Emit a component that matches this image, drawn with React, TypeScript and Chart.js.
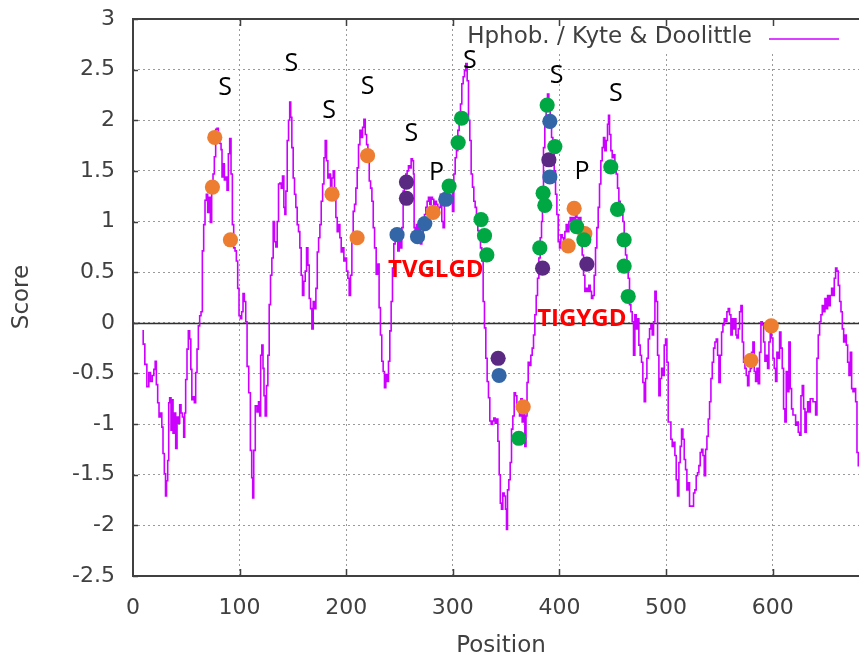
import React, { useEffect, useRef } from 'react';
import { Chart, registerables } from 'chart.js';

Chart.register(...registerables);

const W = 859;
const H = 659;

// Kyte & Doolittle hydrophobicity profile (position, score)
const positions = [
  8.8, 10.3, 11.9, 14.1, 15.6, 17.2, 18.8, 20.3, 21.3, 22.5, 23.8, 25.0, 26.6, 27.5, 28.8, 30.0, 31.0, 31.9, 33.2, 33.8,
  35.0, 36.3, 36.9, 38.2, 39.4, 40.7, 41.9, 43.2, 44.4, 45.7, 46.9, 48.2, 48.8, 50.0, 51.3, 52.5, 53.8, 54.7, 55.7, 56.9,
  58.2, 59.4, 60.7, 61.9, 63.2, 64.4, 65.7, 66.9, 68.2, 69.4, 70.7, 71.9, 73.2, 74.4, 75.7, 76.9, 78.2, 79.4, 80.7, 82.0,
  83.2, 83.8, 85.1, 86.3, 87.6, 88.8, 90.1, 91.3, 92.6, 93.8, 95.1, 96.3, 97.6, 98.8, 100.1, 101.3, 102.6, 103.8, 105.1, 106.4,
  107.6, 109.5, 110.7, 112.0, 112.6, 113.9, 115.5, 117.1, 118.4, 119.3, 120.2, 121.5, 122.4, 123.4, 124.6, 125.9, 127.1, 128.4, 129.6, 130.9,
  132.1, 133.4, 134.6, 135.9, 137.1, 138.4, 139.6, 140.9, 142.1, 142.8, 144.0, 145.3, 146.5, 147.5, 148.4, 149.6, 150.9, 152.1, 153.4, 154.6,
  155.9, 157.1, 158.4, 159.6, 160.9, 162.2, 163.4, 164.7, 165.9, 167.2, 168.4, 169.7, 170.9, 172.2, 173.5, 174.7, 175.9, 177.2, 178.5, 179.7,
  180.9, 182.2, 183.4, 184.7, 185.9, 187.2, 188.4, 189.7, 190.9, 192.2, 193.4, 194.7, 195.9, 197.2, 198.4, 199.7, 200.9, 202.2, 203.4, 204.7,
  205.9, 207.2, 208.4, 209.7, 210.9, 212.2, 213.5, 214.7, 216.0, 217.2, 218.5, 219.7, 221.0, 222.2, 223.5, 224.7, 226.0, 227.2, 229.0, 230.2,
  231.5, 232.7, 234.0, 235.3, 236.5, 237.8, 239.0, 240.3, 241.5, 242.8, 244.0, 245.3, 246.5, 247.8, 249.0, 250.3, 251.5, 252.8, 254.0, 255.3,
  256.5, 257.8, 259.0, 260.3, 261.5, 262.8, 263.4, 264.0, 265.3, 266.5, 267.8, 269.0, 270.3, 271.5, 272.8, 274.0, 275.3, 276.5, 277.8, 279.0,
  280.3, 281.5, 282.8, 284.0, 285.3, 286.5, 287.8, 289.0, 290.3, 291.5, 292.8, 294.1, 295.3, 296.6, 297.8, 299.1, 300.3, 301.6, 302.8, 304.1,
  305.3, 306.6, 307.8, 309.1, 310.3, 311.6, 312.8, 314.1, 315.3, 316.6, 317.8, 319.1, 320.3, 321.6, 322.8, 324.1, 325.3, 326.6, 327.8, 329.1,
  330.3, 331.6, 332.8, 334.1, 335.3, 336.6, 337.8, 339.1, 340.3, 341.6, 342.9, 344.1, 345.0, 346.3, 347.5, 348.8, 350.0, 350.7, 351.9, 353.2,
  354.4, 355.7, 356.9, 358.2, 359.4, 360.7, 361.9, 363.2, 364.4, 365.7, 366.9, 368.2, 369.1, 370.1, 371.3, 372.6, 373.8, 375.1, 376.3, 377.6,
  378.8, 380.1, 381.3, 382.6, 383.8, 384.4, 385.7, 386.9, 388.2, 389.4, 390.7, 392.0, 393.2, 394.5, 395.7, 397.0, 398.2, 399.5, 400.7, 402.0,
  403.2, 404.5, 405.7, 407.0, 408.2, 409.5, 410.7, 412.0, 413.2, 414.5, 415.7, 417.0, 418.2, 419.5, 420.7, 422.0, 423.2, 424.5, 425.7, 427.0,
  428.2, 429.5, 430.7, 432.0, 433.2, 434.5, 435.7, 437.0, 438.2, 439.5, 440.7, 442.0, 443.2, 444.5, 445.7, 446.4, 447.6, 448.9, 450.1, 451.4,
  452.6, 453.9, 455.1, 456.4, 457.6, 458.9, 460.1, 461.4, 462.6, 463.9, 465.1, 466.4, 467.6, 468.9, 470.1, 471.4, 472.6, 473.9, 475.1, 476.4,
  477.6, 478.9, 480.2, 481.4, 482.7, 483.9, 485.2, 486.4, 487.7, 488.9, 490.2, 491.4, 492.7, 493.9, 495.2, 496.4, 497.7, 498.9, 500.2, 501.4,
  502.7, 503.9, 505.2, 506.4, 507.7, 508.9, 510.2, 511.4, 512.7, 513.9, 515.2, 516.4, 517.7, 518.9, 520.2, 521.4, 522.7, 523.9, 525.2, 526.4,
  527.7, 528.9, 530.2, 531.4, 532.7, 534.0, 535.2, 536.5, 537.7, 539.0, 540.2, 541.5, 542.7, 544.0, 545.2, 546.5, 547.7, 549.0, 550.2, 551.5,
  552.7, 554.0, 555.2, 556.5, 557.7, 559.0, 560.2, 561.5, 562.7, 564.0, 565.2, 565.9, 567.1, 568.4, 569.6, 570.9, 572.1, 573.4, 574.6, 575.9,
  577.1, 578.4, 579.6, 580.9, 582.1, 583.4, 584.6, 585.9, 587.1, 588.4, 589.6, 590.9, 592.1, 593.4, 594.6, 595.9, 597.1, 598.4, 599.6, 600.9,
  602.1, 603.4, 604.6, 605.9, 607.1, 608.4, 609.6, 610.9, 612.1, 613.4, 614.6, 615.9, 617.1, 618.4, 619.7, 620.9, 622.2, 623.4, 624.7, 625.9,
  627.2, 628.4, 629.7, 630.9, 632.2, 633.4, 634.7, 635.9, 637.2, 638.4, 639.7, 640.9, 642.2, 643.4, 644.7, 645.9, 647.2, 648.4, 649.7, 650.9,
  652.2, 653.4, 654.7, 655.9, 657.2, 658.4, 659.7, 660.9, 662.2, 663.5, 664.7, 666.0, 667.2, 668.5, 669.7, 671.0, 672.2, 673.5, 674.7, 676.0,
  677.2, 678.5, 679.7, 681.0,
];
const scores = [
  -0.08, -0.21, -0.41, -0.63, -0.49, -0.58, -0.52, -0.46, -0.38, -0.61, -0.79, -0.93, -0.89, -1.03, -1.29, -1.49, -1.71, -1.56, -1.36, -0.79,
  -0.74, -1.06, -0.76, -1.09, -0.89, -1.24, -0.93, -0.99, -0.81, -0.89, -0.93, -1.13, -0.89, -0.56, -0.26, -0.08, -0.16, -0.46, -0.76, -0.73,
  -0.79, -0.49, -0.26, -0.03, 0.07, 0.11, 0.71, 0.97, 1.21, 1.27, 1.09, 1.24, 0.99, 1.31, 1.47, 1.64, 1.91, 1.92, 1.81, 1.77,
  1.71, 1.44, 1.57, 1.41, 1.44, 1.31, 1.67, 1.82, 1.47, 0.97, 0.74, 0.71, 0.61, 0.34, 0.07, 0.04, 0.11, 0.29, 0.21, 0.01,
  -0.43, -0.69, -1.26, -1.53, -1.73, -1.26, -0.82, -0.88, -0.78, -0.92, -0.32, -0.22, -0.45, -0.72, -0.92, -0.62, -0.32, 0.18, 0.47, 0.64,
  1.0, 0.8, 0.75, 1.0, 1.37, 1.38, 1.33, 1.45, 1.14, 1.07, 1.3, 1.8, 2.0, 2.18, 2.03, 1.73, 1.43, 1.27, 1.14, 0.97,
  0.9, 0.74, 0.47, 0.27, 0.41, 0.51, 0.74, 0.57, 0.24, 0.14, -0.06, 0.21, 0.14, 0.34, 0.7, 0.84, 0.97, 1.2, 1.37, 1.63,
  1.8, 1.6, 1.43, 1.47, 1.33, 1.43, 1.5, 1.33, 1.04, 0.9, 0.97, 0.84, 0.7, 0.74, 0.61, 0.64, 0.51, 0.44, 0.27, 0.47,
  0.8, 1.1, 1.17, 1.33, 1.53, 1.76, 1.9, 1.83, 1.93, 2.01, 1.86, 1.76, 1.6, 1.4, 1.33, 1.2, 0.94, 0.74, 0.48, 0.58,
  0.15, -0.12, -0.38, -0.48, -0.64, -0.51, -0.58, -0.38, -0.08, 0.21, 0.54, 0.78, 0.81, 0.87, 0.71, 0.87, 0.74, 0.94, 1.3, 1.37,
  1.47, 1.5, 1.55, 1.53, 1.62, 1.6, 1.47, 0.94, 0.84, 0.97, 0.81, 0.94, 0.78, 0.87, 1.0, 1.07, 1.14, 1.2, 1.24, 1.17,
  1.24, 1.22, 1.14, 1.2, 1.17, 1.07, 1.14, 1.27, 1.0, 0.94, 1.24, 1.37, 1.24, 1.34, 1.3, 1.4, 1.1, 1.47, 1.63, 1.7,
  1.9, 2.03, 2.16, 2.36, 2.43, 2.49, 2.56, 2.39, 2.0, 1.8, 1.47, 1.34, 1.2, 1.14, 1.0, 0.91, 0.84, 0.74, 0.61, 0.21,
  -0.05, -0.35, -0.58, -0.74, -0.97, -1.0, -0.97, -0.94, -0.99, -0.95, -1.17, -1.5, -1.78, -1.84, -1.68, -1.71, -1.84, -2.04, -1.65, -1.55,
  -1.38, -1.05, -0.92, -0.69, -0.72, -0.85, -0.79, -0.92, -0.75, -0.98, -0.88, -1.22, -0.92, -0.59, -0.39, -0.42, -0.32, -0.25, -0.12, 0.08,
  0.27, 0.44, 0.64, 0.84, 1.0, 1.27, 1.73, 2.0, 2.16, 2.26, 2.13, 1.93, 1.83, 1.73, 1.5, 1.27, 1.07, 0.8, 0.74, 0.87,
  0.84, 0.77, 0.9, 0.97, 0.9, 1.0, 1.04, 0.94, 1.04, 0.97, 1.1, 1.04, 0.94, 1.04, 0.8, 0.67, 0.47, 0.31, 0.34, 0.31,
  0.37, 0.31, 0.24, 0.27, 0.47, 0.74, 0.94, 1.14, 1.37, 1.6, 1.73, 1.83, 1.7, 1.8, 1.96, 2.05, 1.86, 1.7, 1.63, 1.66,
  1.53, 1.47, 1.33, 1.2, 1.1, 1.07, 1.0, 0.84, 0.67, 0.54, 0.44, 0.18, 0.11, 0.01, -0.32, 0.08, -0.06, 0.04, -0.22, -0.32,
  -0.39, -0.59, -0.78, -0.55, -0.35, -0.16, -0.06, -0.02, -0.12, 0.01, 0.31, 0.21, -0.32, -0.72, -0.55, -0.45, -0.52, -0.22, -0.16, -0.39,
  -0.98, -0.98, -1.15, -1.22, -1.18, -1.31, -1.55, -1.71, -1.38, -1.22, -1.05, -1.15, -1.35, -1.45, -1.65, -1.58, -1.81, -1.81, -1.81, -1.68,
  -1.65, -1.51, -1.48, -1.41, -1.28, -1.25, -1.31, -1.51, -1.25, -1.12, -0.95, -0.78, -0.55, -0.39, -0.25, -0.19, -0.16, -0.32, -0.59, -0.32,
  -0.09, -0.02, 0.04, 0.01, 0.11, 0.14, 0.08, -0.12, 0.04, -0.06, 0.04, -0.12, -0.15, -0.06, 0.11, 0.17, -0.19, -0.39, -0.45, -0.52,
  -0.62, -0.48, -0.45, -0.29, -0.19, -0.48, -0.58, -0.45, -0.6, -0.29, 0.01, -0.02, -0.19, -0.38, -0.32, -0.45, -0.19, -0.09, -0.15, -0.35,
  -0.45, -0.58, -0.29, -0.35, -0.09, -0.25, -0.45, -0.85, -0.98, -0.48, -0.68, -0.19, -0.65, -0.85, -0.91, -0.91, -1.01, -0.98, -1.08, -1.11,
  -0.72, -0.62, -0.85, -1.08, -0.88, -0.78, -0.88, -0.75, -0.75, -0.78, -0.78, -0.91, -0.35, -0.12, 0.01, 0.08, 0.17, 0.11, 0.24, 0.14,
  0.27, 0.17, 0.27, 0.34, 0.27, 0.44, 0.54, 0.51, 0.37, 0.21, 0.11, -0.06, -0.19, -0.12, -0.22, -0.39, -0.52, -0.29, -0.65, -0.68,
  -0.65, -0.78, -1.28, -1.41,
];

// Marked residues (position, score), by colour group
const orangeX = [74.5, 76.7, 91.4, 186.7, 210.2, 220, 281.5, 366, 408.2, 413.8, 423.8, 579.6, 598.7];
const orangeY = [1.34, 1.83, 0.82, 1.27, 0.84, 1.65, 1.09, -0.83, 0.76, 1.13, 0.88, -0.37, -0.03];
const greenX = [296.5, 305, 308.2, 326.5, 329.7, 331.9, 361.9, 381.6, 384.7, 386.3, 388.5, 395.7, 416.1, 422.9, 448.2, 454.5, 460.7, 460.7, 464.5];
const greenY = [1.35, 1.78, 2.02, 1.02, 0.86, 0.67, -1.14, 0.74, 1.28, 1.16, 2.15, 1.74, 0.95, 0.82, 1.54, 1.12, 0.82, 0.56, 0.26];
const blueX = [247.7, 266.9, 273.7, 293.4, 343.4, 391, 391];
const blueY = [0.87, 0.85, 0.98, 1.22, -0.52, 1.99, 1.44];
const purpleX = [256.5, 256.5, 342.5, 384.2, 390.1, 425.7];
const purpleY = [1.39, 1.23, -0.35, 0.54, 1.61, 0.58];

// Annotations
const siteLabels = ['S', 'S', 'S', 'S', 'S', 'S', 'S', 'S', 'P', 'P'];
const siteX = [86.3, 148.6, 183.9, 220, 261.2, 316, 397.3, 453, 284.7, 421.3];
const siteY = [2.34, 2.57, 2.11, 2.35, 1.88, 2.6, 2.46, 2.28, 1.5, 1.51];
const motifLabels = ['TVGLGD', 'TIGYGD'];
const motifX = [284, 421];
const motifY = [0.54, 0.05];

const legendLabel = 'Hphob. / Kyte & Doolittle';
const xTitle = 'Position';
const yTitle = 'Score';

const X_MIN = 0;
const X_MAX = 681;
const Y_MIN = -2.5;
const Y_MAX = 3;

const LINE_COLOR = '#CC00FF';
const TEXT_GRAY = '#404040';
const TICK_FONT = 'DejaVu Sans';

const toPoints = (xs: number[], ys: number[]) => xs.map((x, i) => ({ x, y: ys[i] }));

const zeroPad = (s: any) => {
  s.paddingLeft = 0;
  s.paddingRight = 0;
  s.paddingTop = 0;
  s.paddingBottom = 0;
};

const decorPlugin = {
  id: 'decor',
  beforeDatasetsDraw(chart: any) {
    const { ctx, chartArea: a, scales } = chart;
    const xs = scales.x;
    const ys = scales.y;
    ctx.save();
    // legend background
    ctx.fillStyle = '#ffffff';
    ctx.fillRect(460, a.top + 1, a.right - 460 + 2, 31);
    // zero line
    const y0 = Math.round(ys.getPixelForValue(0)) + 0.5;
    ctx.strokeStyle = '#303030';
    ctx.lineWidth = 1.6;
    ctx.beginPath();
    ctx.moveTo(a.left, y0);
    ctx.lineTo(a.right, y0);
    ctx.stroke();
    // frame
    ctx.strokeStyle = '#404040';
    ctx.lineWidth = 2;
    ctx.beginPath();
    ctx.moveTo(a.right + 2, a.top);
    ctx.lineTo(a.left, a.top);
    ctx.lineTo(a.left, a.bottom);
    ctx.lineTo(a.right + 2, a.bottom);
    ctx.stroke();
    // tick marks
    ctx.lineWidth = 1.5;
    xs.ticks.forEach((t: any) => {
      if (t.value === X_MIN) return;
      const px = Math.round(xs.getPixelForValue(t.value)) + 0.5;
      ctx.beginPath();
      ctx.moveTo(px, a.bottom);
      ctx.lineTo(px, a.bottom - 7);
      ctx.moveTo(px, a.top);
      ctx.lineTo(px, a.top + 7);
      ctx.stroke();
    });
    ys.ticks.forEach((t: any) => {
      const py = Math.round(ys.getPixelForValue(t.value)) + 0.5;
      ctx.beginPath();
      ctx.moveTo(a.left, py);
      ctx.lineTo(a.left + 5, py);
      ctx.stroke();
    });
    ctx.restore();
  },
  afterDraw(chart: any) {
    const { ctx, chartArea: a, scales } = chart;
    const xs = scales.x;
    const ys = scales.y;
    ctx.save();
    // site labels
    ctx.fillStyle = '#000000';
    ctx.textAlign = 'center';
    ctx.textBaseline = 'alphabetic';
    const siteSize = 25;
    ctx.font = `${siteSize}px "Open Sans"`;
    siteLabels.forEach((s, i) => {
      const px = xs.getPixelForValue(siteX[i]);
      const py = ys.getPixelForValue(siteY[i]);
      ctx.fillText(s, px, py + siteSize * 0.357);
    });
    // motif labels
    const motifSize = 24;
    ctx.font = `bold ${motifSize}px "Open Sans"`;
    ctx.fillStyle = '#FF0000';
    motifLabels.forEach((s, i) => {
      const px = xs.getPixelForValue(motifX[i]);
      const py = ys.getPixelForValue(motifY[i]);
      ctx.fillText(s, px, py + motifSize * 0.357);
    });
    // legend
    ctx.fillStyle = TEXT_GRAY;
    ctx.font = `23px "${TICK_FONT}"`;
    ctx.textAlign = 'right';
    ctx.textBaseline = 'middle';
    ctx.fillText(legendLabel, 752, a.top + 18);
    ctx.strokeStyle = LINE_COLOR;
    ctx.lineWidth = 1.5;
    ctx.beginPath();
    ctx.moveTo(769, a.top + 20);
    ctx.lineTo(839, a.top + 20);
    ctx.stroke();
    // axis titles
    ctx.font = `23px "${TICK_FONT}"`;
    ctx.textAlign = 'center';
    ctx.textBaseline = 'middle';
    ctx.fillText(xTitle, 501, 646);
    ctx.save();
    ctx.translate(22, 297);
    ctx.rotate(-Math.PI / 2);
    ctx.fillText(yTitle, 0, 0);
    ctx.restore();
    ctx.restore();
  },
};

export default function App() {
  const canvasRef = useRef<HTMLCanvasElement | null>(null);

  useEffect(() => {
    const canvas = canvasRef.current;
    if (!canvas) return;
    const dot = (label: string, xs: number[], ys: number[], color: string, order: number) => ({
      label,
      data: toPoints(xs, ys),
      backgroundColor: color,
      borderWidth: 0,
      pointRadius: 7.6,
      pointHoverRadius: 7.6,
      showLine: false,
      order,
    });
    const chart = new Chart(canvas, {
      type: 'scatter',
      data: {
        datasets: [
          {
            label: legendLabel,
            data: toPoints(positions, scores),
            borderColor: LINE_COLOR,
            backgroundColor: LINE_COLOR,
            borderWidth: 1.6,
            pointRadius: 0,
            showLine: true,
            stepped: 'middle',
            tension: 0,
            order: 5,
          } as any,
          dot('blue', blueX, blueY, '#3366A6', 4),
          dot('purple', purpleX, purpleY, '#5A2A82', 3),
          dot('orange', orangeX, orangeY, '#ED7D31', 2),
          dot('green', greenX, greenY, '#00A843', 1),
        ],
      },
      plugins: [decorPlugin],
      options: {
        responsive: false,
        animation: false,
        devicePixelRatio: 1,
        layout: { padding: { top: 19, right: 0, bottom: 0, left: 0 }, autoPadding: false },
        plugins: { legend: { display: false }, tooltip: { enabled: false } },
        events: [],
        scales: {
          x: {
            type: 'linear',
            min: X_MIN,
            max: X_MAX,
            afterFit: (s: any) => { s.height = H - 576; zeroPad(s); },
            ticks: {
              stepSize: 100,
              includeBounds: false,
              padding: 19,
              color: TEXT_GRAY,
              font: { family: TICK_FONT, size: 22 },
              maxRotation: 0,
              callback: (v: any) => String(v),
            },
            grid: { color: '#9a9a9a', lineWidth: 1, drawTicks: false },
            border: { display: false, dash: [2, 3] },
          },
          y: {
            type: 'linear',
            min: Y_MIN,
            max: Y_MAX,
            afterFit: (s: any) => { s.width = 133; zeroPad(s); },
            ticks: {
              stepSize: 0.5,
              padding: 18,
              color: TEXT_GRAY,
              font: { family: TICK_FONT, size: 22 },
              callback: (v: any) => String(v),
            },
            grid: { color: '#9a9a9a', lineWidth: 1, drawTicks: false },
            border: { display: false, dash: [2, 3] },
          },
        },
      } as any,
    });
    return () => chart.destroy();
  }, []);

  return (
    <div style={{ position: 'fixed', left: 0, top: 0, width: W, height: H, background: '#ffffff' }}>
      <canvas ref={canvasRef} width={W} height={H} style={{ display: 'block', width: W, height: H }} />
    </div>
  );
}
